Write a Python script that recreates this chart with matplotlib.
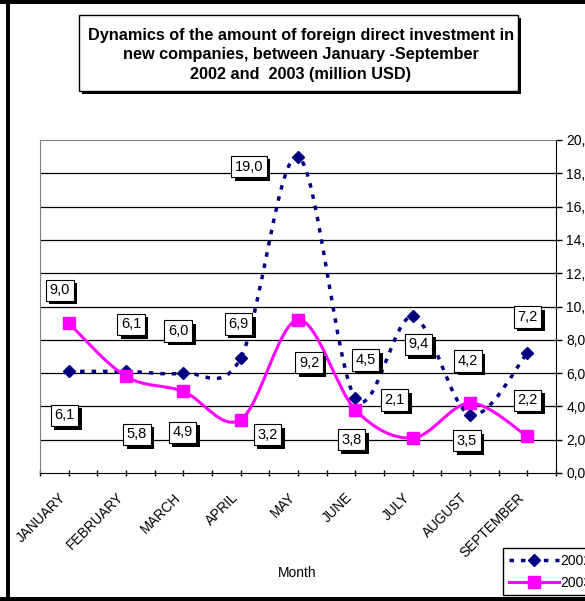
import matplotlib
matplotlib.use("Agg")
import matplotlib.pyplot as plt
import matplotlib.patheffects as pe
from matplotlib.patches import Rectangle, PathPatch
from matplotlib.path import Path
from matplotlib.lines import Line2D
from matplotlib.transforms import ScaledTranslation

plt.rcParams['font.family'] = ['Liberation Sans', 'DejaVu Sans']

# ----- Данные ----- #
months = ["JANUARY", "FEBRUARY", "MARCH", "APRIL", "MAY",
          "JUNE", "JULY", "AUGUST", "SEPTEMBER"]
inv_2002 = [6.1, 6.1, 6.0, 6.9, 19.0, 4.5, 9.4, 3.5, 7.2]
inv_2003 = [9.0, 5.8, 4.9, 3.2, 9.2, 3.8, 2.1, 4.2, 2.2]
y_ticks = [0, 2, 4, 6, 8, 10, 12, 14, 16, 18, 20]
title = ("Dynamics of the amount of foreign direct investment in\n"
         "new companies, between January -September\n"
         "2002 and  2003 (million USD)")

# смещения подписей значений (в пикселях от точки)
off_2002 = [(-4, -44), (5, 47), (-5, 42), (-2, 34), (-49, -10),
            (10, 38), (6, -28), (-3, -26), (0, 36)]
off_2003 = [(-9, 33), (11, -58), (-1, -41), (27, -15), (11, -43),
            (-4, -30), (-18, 38), (-2, 42), (0, 36)]

NAVY = "#000080"
MAGENTA = "#FF00FF"


def smooth_path(xs, ys):
    # сглаживание как в Excel (кривые Безье по Catmull-Rom)
    pts = list(zip(xs, ys))
    n = len(pts)
    verts = [pts[0]]
    codes = [Path.MOVETO]
    for i in range(n - 1):
        p0 = pts[max(i - 1, 0)]
        p1 = pts[i]
        p2 = pts[i + 1]
        p3 = pts[min(i + 2, n - 1)]
        c1 = (p1[0] + (p2[0] - p0[0]) / 6, p1[1] + (p2[1] - p0[1]) / 6)
        c2 = (p2[0] - (p3[0] - p1[0]) / 6, p2[1] - (p3[1] - p1[1]) / 6)
        verts += [c1, c2, p2]
        codes += [Path.CURVE4] * 3
    return Path(verts, codes)


def fmt(v):
    return f"{v:.1f}".replace(".", ",")


fig = plt.figure(figsize=(5.85, 6.01), dpi=100)
ax = fig.add_axes([40 / 585, 1 - 473 / 601, 516 / 585, 333 / 601])

x = list(range(len(months)))

# линии
ax.add_patch(PathPatch(smooth_path(x, inv_2002), fill=False, edgecolor=NAVY,
                       linewidth=2.5, linestyle=(0, (1.3, 2.0)),
                       capstyle="butt", zorder=3))
ax.add_patch(PathPatch(smooth_path(x, inv_2003), fill=False, edgecolor=MAGENTA,
                       linewidth=2.2, zorder=3))
ax.plot(x, inv_2002, linestyle="none", marker="D", ms=5.8,
        color=NAVY, zorder=4)
ax.plot(x, inv_2003, linestyle="none", marker="s", ms=8.5,
        color=MAGENTA, zorder=4)

# подписи значений
shadow = [pe.SimplePatchShadow(offset=(2.5, -2.5), shadow_rgbFace="black", alpha=1),
          pe.Normal()]
for vals, offs in ((inv_2002, off_2002), (inv_2003, off_2003)):
    for i, v in enumerate(vals):
        t = ax.annotate(fmt(v), (i, v), xytext=offs[i], textcoords="offset pixels",
                        ha="center", va="center", fontsize=10.5, zorder=6,
                        bbox=dict(boxstyle="square,pad=0.25", fc="white",
                                  ec="black", lw=0.8))
        t.get_bbox_patch().set_path_effects(shadow)

# оси
ax.set_xlim(-0.5, 8.5)
ax.set_ylim(0, 20)
ax.yaxis.tick_right()
ax.set_yticks(y_ticks)
ax.set_yticklabels([fmt(v) for v in y_ticks])
ax.set_xticks(x)
ax.set_xticks([i - 0.5 for i in range(len(months) + 1)], minor=True)
ax.set_xticklabels(months, rotation=45, ha="right", va="top")
for lab in ax.get_xticklabels():
    lab.set_transform(lab.get_transform() +
                      ScaledTranslation(-0.07, 0, fig.dpi_scale_trans))

ax.tick_params(axis="y", direction="out", length=4.5, width=1, pad=3,
               labelsize=10, right=True, left=False)
ax.tick_params(axis="x", which="both", direction="inout", length=5, width=1)
ax.tick_params(axis="x", which="major", pad=10, labelsize=9.8)

ax.grid(axis="y", color="black", linewidth=0.9)
gl = ax.get_ygridlines()
gl[0].set_visible(False)
gl[-1].set_visible(False)
ax.set_axisbelow(True)

for s in ("top", "left"):
    ax.spines[s].set_color("#808080")
ax.spines["right"].set_color("black")
ax.spines["bottom"].set_color("black")

fig.text(297 / 585, 1 - 573 / 601, "Month", ha="center", va="center", fontsize=10)

# заголовок в рамке
box = Rectangle((79 / 585, 1 - 91 / 601), (518 - 79) / 585, 76 / 601,
                transform=fig.transFigure, fc="white", ec="black", lw=1,
                path_effects=[pe.SimplePatchShadow(offset=(2.5, -2.5),
                                                   shadow_rgbFace="black", alpha=1),
                              pe.Normal()])
fig.add_artist(box)
fig.text(301 / 585, 1 - 55 / 601, title, ha="center", va="center",
         fontsize=11.7, fontweight="bold", linespacing=1.4)

# легенда
h1 = Line2D([], [], color=NAVY, lw=2.5, dashes=(1.3, 2.0), marker="D", ms=6.5)
h2 = Line2D([], [], color=MAGENTA, lw=2.2, marker="s", ms=8.5)
leg = fig.legend([h1, h2], ["2002", "2003"], loc="upper left",
                 bbox_to_anchor=(503 / 585, 1 - 548 / 601), frameon=True,
                 fancybox=False, edgecolor="black", framealpha=1,
                 handlelength=3.6, fontsize=10, borderpad=0.4,
                 labelspacing=0.6, handletextpad=0.1, borderaxespad=0)
leg.get_frame().set_linewidth(1.0)

# рамка рисунка
fig.add_artist(Rectangle((0, 1 - 4 / 601), 1, 4 / 601, transform=fig.transFigure,
                         fc="black", ec="none"))
fig.add_artist(Rectangle((0, 0), 1, 4 / 601, transform=fig.transFigure,
                         fc="black", ec="none"))
fig.add_artist(Rectangle((6 / 585, 0), 3.5 / 585, 1, transform=fig.transFigure,
                         fc="black", ec="none"))

fig.savefig("out.png", dpi=100)
